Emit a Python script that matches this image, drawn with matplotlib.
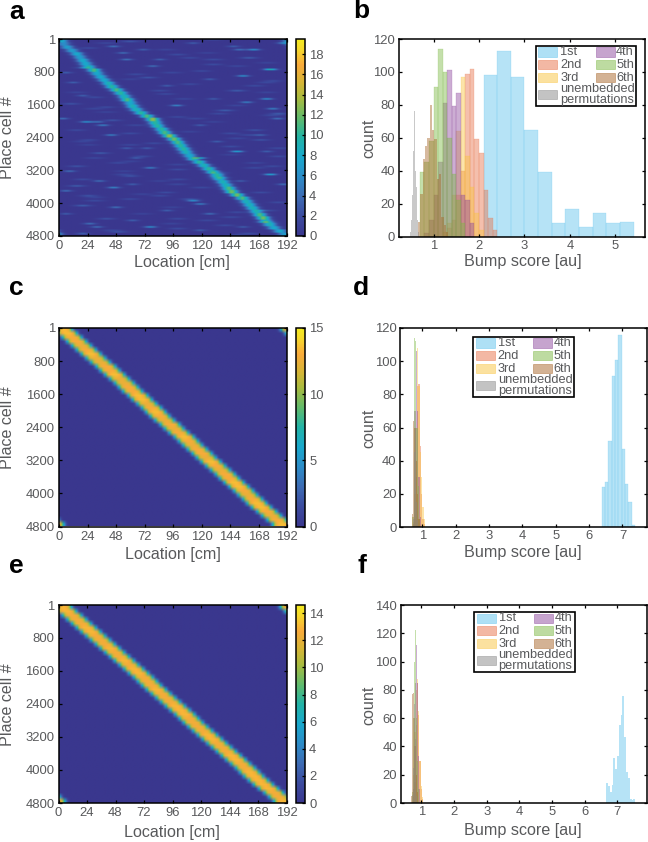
import numpy as np
import matplotlib
matplotlib.use('Agg')
import matplotlib.pyplot as plt
from matplotlib.colors import LinearSegmentedColormap
from matplotlib.patches import Rectangle

plt.rcParams['font.family'] = ['Liberation Sans', 'DejaVu Sans']

W, H = 648, 842
TEXT = '#58595b'

# %% heatmap a: ridge readings, one per 80 cells
a_ridge_cm = [2, 4, 7, 11, 15, 17.5, 20, 22.5, 25, 29.5,
              32, 35, 38, 41.5, 44.5, 48.5, 52, 55, 57.5, 60,
              62, 65, 69, 74, 79, 81, 83, 86.5, 89, 93,
              97, 100, 102.5, 105, 107, 110, 113, 118, 122, 126,
              129.5, 133, 135, 138, 140.5, 143, 145.5, 150, 154.5, 158,
              160.5, 163, 166, 169, 172, 174, 177.5, 181, 186, 190]
a_ridge_h = [8, 6, 7, 7, 8, 7, 8, 8, 9, 11,
             8, 8, 8, 9, 10, 11, 10, 9, 11, 8,
             9, 9, 10, 11, 13, 10, 10, 10, 11, 13,
             12, 11, 10, 10, 9, 8, 9, 10, 9, 10,
             10, 10, 9, 9, 9, 11, 12, 12, 11, 9,
             9, 9, 9, 11, 12, 9, 9, 8, 8, 7]

a_streak_row = [9, 3, 3, 11, 2, 4, 8, 6, 20, 25, 26, 25, 29, 34, 36, 39, 41, 24, 18, 21,
                19, 18, 49, 50, 57, 57, 56, 45, 46, 53, 51, 40, 43, 44, 1, 2, 1, 44, 3, 6,
                14, 12, 24, 10, 13, 17, 33, 36, 33, 31, 34, 29, 26, 43, 52, 53, 55, 57, 58, 59]
a_streak_cm = [178, 152, 164, 155, 46, 54, 79, 57, 99, 23, 37, 33, 44, 150, 119, 77, 178, 184, 175, 180,
               158, 130, 113, 119, 32, 77, 26, 46, 6, 127, 48, 9, 34, 62, 113, 147, 189, 189, 71, 85,
               91, 127, 3, 6, 12, 20, 74, 65, 57, 133, 175, 170, 119, 153, 91, 6, 62, 155, 119, 20]
a_streak_h = [9, 4, 6, 6, 4, 4, 4, 4, 5, 6, 5, 4, 5, 7, 6, 5, 7, 4, 6, 5,
              5, 3, 6, 5, 4, 6, 4, 5, 4, 4, 4, 4, 4, 3, 3, 3, 5, 4, 3, 3,
              3, 3, 4, 3, 3, 3, 3, 3, 3, 3, 3, 3, 3, 3, 3, 3, 3, 3, 3, 3]

a_faint_row = [0, 2, 4, 5, 7, 8, 9, 11, 12, 13, 15, 16, 17, 19, 20, 21, 22, 23, 24, 27,
               27, 28, 30, 30, 31, 32, 34, 35, 35, 37, 37, 38, 39, 40, 41, 42, 42, 44, 46, 46,
               47, 48, 48, 49, 50, 52, 54, 54, 55, 56, 57, 58, 59, 5, 10, 15, 22, 28, 38, 47]
a_faint_cm = [60, 25, 100, 160, 130, 20, 120, 75, 180, 110, 150, 90, 30, 10, 40, 140, 185, 100, 45, 15,
              165, 60, 25, 170, 80, 145, 35, 70, 185, 50, 165, 15, 100, 135, 60, 20, 100, 15, 90, 170,
              25, 60, 110, 185, 20, 150, 40, 100, 175, 140, 100, 50, 150, 110, 65, 85, 135, 145, 180, 85]
a_faint_h = [2.5, 2, 2, 3, 2, 2, 2, 2.5, 2, 2, 3, 2, 2, 2.5, 2, 3, 3, 2, 2.5, 2,
             2.5, 2, 2, 2.5, 2, 2, 3, 2, 2, 2, 2, 2.5, 2, 2, 2.5, 2, 2, 3, 2, 2,
             2.5, 2, 2.5, 2, 3, 2, 2.5, 2, 3, 2, 2, 2.5, 2, 2, 2, 2, 2, 2, 2, 2]

# second pass over the background, the dim streaks between the ones above
a_dim_row = [1, 3, 6, 7, 10, 12, 14, 16, 18, 20, 21, 23, 25, 26, 28, 29, 31, 32, 33, 35,
             36, 38, 39, 40, 42, 43, 45, 47, 49, 51, 52, 53, 55, 56, 58, 59, 0, 8, 16, 24,
             32, 41, 48, 54, 4, 13, 22, 30, 37, 44]
a_dim_cm = [40, 90, 130, 175, 95, 60, 165, 15, 105, 150, 30, 180, 130, 65, 110, 160, 20, 60, 185, 145,
            30, 100, 165, 55, 135, 85, 120, 70, 30, 95, 175, 70, 125, 95, 45, 160, 130, 150, 175, 115,
            25, 55, 30, 145, 125, 175, 40, 150, 60, 100]
a_dim_h = [1.8, 1.5, 2, 1.5, 1.8, 1.5, 2, 1.5, 1.8, 1.5, 1.8, 2, 1.5, 1.8, 1.5, 2, 1.5, 1.8, 2, 1.5,
           1.8, 1.5, 2, 1.5, 1.8, 1.5, 1.8, 1.5, 2, 1.5, 2, 1.5, 1.8, 1.5, 1.8, 2, 1.5, 1.8, 1.5, 1.8,
           1.5, 1.8, 1.5, 2, 1.5, 1.8, 1.5, 1.8, 1.5, 1.8]

# %% heatmap c and e: ridge readings, one per 100 cells
c_ridge_cm = [3, 7, 11, 15, 19, 23, 27, 31, 35, 39.5,
              43, 47, 51, 55, 58.5, 62, 66.5, 70, 74, 78,
              81.5, 85, 89, 93.5, 97, 101, 105.5, 109, 112.5, 116.5,
              120.5, 124, 128, 132, 136, 140, 143.5, 147.5, 151.5, 155.5,
              159, 163, 166.5, 170.5, 175, 179, 183.5, 188]
c_ridge_h = [13.5, 13.5, 13, 13, 12.5, 13, 13.5, 12.5, 12.5, 13,
             13, 13.5, 12.5, 12.5, 13, 13, 13.5, 13.5, 12.5, 13,
             13.5, 13, 12.5, 13, 12.5, 13, 13.5, 13, 12.5, 13,
             13, 12.5, 13.5, 13, 12.5, 13, 13, 13.5, 13.5, 13,
             12.5, 13, 13.5, 13.5, 13, 12.5, 13, 13.5]
e_ridge_cm = [2.5, 6.5, 11, 15, 19, 23, 27, 31, 35, 39,
              43, 47, 51, 55, 59, 63, 67, 71, 74.5, 78,
              82, 86, 90, 94, 98, 102, 106, 109.5, 113, 117,
              121, 125, 129, 133, 137, 141, 145, 149, 153, 157,
              160.5, 164, 168, 172, 176.5, 181, 185, 189]
e_ridge_h = [13, 13, 12.5, 12.5, 12.5, 13, 13, 12.5, 12.5, 12.5,
             13, 12.5, 12.5, 13, 12.5, 13, 13, 12.5, 12.5, 12.5,
             13, 12.5, 12.5, 12.5, 13, 13, 13, 12.5, 12.5, 12.5,
             12.5, 13, 13, 12.5, 12.5, 12.5, 13, 13, 12.5, 12.5,
             13, 13, 13, 13, 13, 12.5, 12.5, 13]

# %% histogram b
b_1st_start, b_1st_width = 2.10, 0.30
b_1st = [98, 113, 97, 65, 39, 8, 17, 6, 14, 8, 9]
b_2nd_start, b_2nd_width = 1.30, 0.10
b_2nd = [5, 10, 25, 40, 99, 102, 59, 51, 28, 11, 4]
b_3rd_start, b_3rd_width = 1.20, 0.10
b_3rd = [3, 8, 25, 64, 97, 49, 30, 14, 4]
b_4th_start, b_4th_width = 0.80, 0.10
b_4th = [2, 10, 25, 45, 81, 101, 79, 87, 25, 22, 8]
b_5th_start, b_5th_width = 0.70, 0.10
b_5th = [39, 45, 58, 91, 114, 100, 60, 38, 22, 8]
b_6th_start, b_6th_width = 0.66, 0.051
b_6th = [9, 26, 47, 55, 60, 80, 65, 59, 35, 38, 12, 7, 3]
b_perm_start, b_perm_width = 0.49, 0.022
b_perm = [3, 10, 25, 52, 76, 40, 30, 10, 3]

# %% histogram d
d_1st_start, d_1st_width = 6.38, 0.10
d_1st = [24, 27, 52, 91, 101, 116, 47, 26, 15, 1]
d_2nd_start, d_2nd_width = 0.76, 0.04
d_2nd = [5, 30, 85, 86, 49, 20, 5, 2]
d_3rd_start, d_3rd_width = 0.72, 0.04
d_3rd = [3, 20, 60, 108, 85, 45, 30, 12, 5]
d_4th_start, d_4th_width = 0.72, 0.04
d_4th = [2, 70, 106, 70, 30, 6]
d_5th_start, d_5th_width = 0.70, 0.04
d_5th = [6, 114, 112, 60, 25, 5]
d_6th_start, d_6th_width = 0.68, 0.04
d_6th = [8, 64, 60, 40, 20, 5]
d_perm_start, d_perm_width = 0.72, 0.02
d_perm = [5, 20, 45, 60, 40, 15, 4]

# %% histogram f
f_1st_start, f_1st_width = 6.66, 0.056
f_1st = [14, 12, 8, 13, 32, 24, 33, 55, 62, 76, 47, 22, 18, 3, 2, 3]
f_2nd_start, f_2nd_width = 0.74, 0.04
f_2nd = [4, 15, 55, 85, 62, 30, 10, 3]
f_3rd_start, f_3rd_width = 0.70, 0.04
f_3rd = [5, 20, 50, 80, 88, 65, 30, 12, 4]
f_4th_start, f_4th_width = 0.74, 0.03
f_4th = [10, 40, 85, 112, 85, 33, 10]
f_5th_start, f_5th_width = 0.71, 0.03
f_5th = [8, 60, 100, 122, 60, 30, 10]
f_6th_start, f_6th_width = 0.68, 0.03
f_6th = [5, 77, 78, 60, 40, 20, 8]
f_perm_start, f_perm_width = 0.72, 0.02
f_perm = [6, 25, 50, 70, 45, 20, 5]

legend_names = ['1st', '2nd', '3rd', '4th', '5th', '6th']
series_colors = ['#5fc3ec', '#e8734a', '#f9c440', '#8e4a9e', '#7db845', '#a8662a', '#888888']

location_ticks = [0, 24, 48, 72, 96, 120, 144, 168, 192]
cell_ticks = [1, 800, 1600, 2400, 3200, 4000, 4800]

parula = LinearSegmentedColormap.from_list('parula_print', [
    (0.00, '#3a378e'), (0.10, '#3b4b9f'), (0.20, '#3d6cb4'), (0.30, '#2c8cc8'),
    (0.40, '#19a8cc'), (0.50, '#22b3a6'), (0.60, '#62bb6b'), (0.70, '#a9bb3f'),
    (0.78, '#d6b536'), (0.87, '#f9ab3b'), (0.95, '#f6d92c'), (1.00, '#f3ea20')])


def box(x0, y0, x1, y1):
    # pixel box measured from top left -> figure fraction rect
    return [x0 / W, 1 - y1 / H, (x1 - x0) / W, (y1 - y0) / H]


def add_text(x, y, s, **kw):
    kw.setdefault('color', TEXT)
    kw.setdefault('ha', 'center')
    kw.setdefault('va', 'center')
    return fig.text(x / W, 1 - y / H, s, **kw)


def style_axes(ax):
    for sp in ax.spines.values():
        sp.set_linewidth(1.1)
    ax.tick_params(direction='in', top=True, right=True, length=2.2, width=0.9,
                   labelsize=9.4, labelcolor=TEXT, pad=2.5)


def ridge_matrix(cms, peaks, sigma, power=2):
    loc = np.arange(192) + 0.5
    mat = np.zeros((len(cms), 192))
    for r, (c, p) in enumerate(zip(cms, peaks)):
        d = np.abs(loc - c)
        d = np.minimum(d, 192 - d)   # track wraps round
        mat[r] += p * np.exp(-0.5 * (d / sigma) ** power)
    return mat


def add_streaks(mat, rows, cms, heights, sigma):
    loc = np.arange(192) + 0.5
    for r, c, h in zip(rows, cms, heights):
        mat[r] += h * np.exp(-0.5 * ((loc - c) / sigma) ** 2)


def heatmap(mat, rect, cbar_rect, vmax, cticks):
    ax = fig.add_axes(box(*rect))
    im = ax.imshow(mat, cmap=parula, vmin=0, vmax=vmax, aspect='auto',
                   extent=[0, 192, 4800, 1], interpolation='bilinear')
    ax.set_xticks(location_ticks)
    ax.set_yticks(cell_ticks)
    style_axes(ax)
    ax.tick_params(pad=3)
    cax = fig.add_axes(box(*cbar_rect))
    cb = fig.colorbar(im, cax=cax, ticks=cticks)
    cb.outline.set_linewidth(1.1)
    cax.tick_params(direction='in', length=2.2, width=0.9, labelsize=9.4,
                    labelcolor=TEXT, pad=3)
    return ax


def hist_panel(rect, xlim, ylim, xticks, yticks, series):
    ax = fig.add_axes(box(*rect))
    for (start, width, counts), col in zip(series, series_colors):
        lefts = start + width * np.arange(len(counts))
        # narrow bins get no edge, the lines would swamp the fill
        ax.bar(lefts, counts, width=width, align='edge', color=col, alpha=0.45,
               edgecolor=col, linewidth=0.3 if width > 0.06 else 0)
    ax.set_xlim(*xlim)
    ax.set_ylim(*ylim)
    ax.set_xticks(xticks)
    ax.set_yticks(yticks)
    style_axes(ax)
    return ax


def legend_box(x0, y0):
    # hand placed because the long last entry runs under the second column
    fig.add_artist(Rectangle((x0 / W, 1 - (y0 + 60) / H), 100.5 / W, 60 / H, transform=fig.transFigure,
                             facecolor='white', edgecolor='black', linewidth=1.2, zorder=5))
    rows = [6.3, 19, 32]
    for i, name in enumerate(legend_names):
        col = 0 if i < 3 else 1
        sx = x0 + (2.7 if col == 0 else 60)
        tx = x0 + (24.5 if col == 0 else 80.5)
        y = y0 + rows[i % 3]
        fig.add_artist(Rectangle((sx / W, 1 - (y + 4.5) / H), 19 / W, 9 / H, transform=fig.transFigure,
                                 facecolor=series_colors[i], alpha=0.5, edgecolor=series_colors[i],
                                 linewidth=0.6, zorder=6))
        add_text(tx, y, name, ha='left', fontsize=9.2, zorder=7)
    fig.add_artist(Rectangle(((x0 + 2.7) / W, 1 - (y0 + 53) / H), 19 / W, 9 / H, transform=fig.transFigure,
                             facecolor=series_colors[6], alpha=0.5, edgecolor=series_colors[6],
                             linewidth=0.6, zorder=6))
    add_text(x0 + 24.5, y0 + 48.5, 'unembedded\npermutations', ha='left', fontsize=9.2,
             linespacing=0.85, zorder=7)


# %%
fig = plt.figure(figsize=(W / 100, H / 100), dpi=100)

# a: thin single-cell streaks on a ridge that holds over two image rows
mat_a = np.repeat(ridge_matrix(a_ridge_cm, a_ridge_h, 4.0), 2, axis=0)
add_streaks(mat_a, 2 * np.array(a_streak_row), a_streak_cm, a_streak_h, 4.0)
add_streaks(mat_a, 2 * np.array(a_faint_row) + 1, a_faint_cm, a_faint_h, 5.5)
add_streaks(mat_a, 2 * np.array(a_dim_row), a_dim_cm, a_dim_h, 6.0)
heatmap(mat_a, (59, 39, 287, 236), (296, 39, 305, 236), 19.5, list(range(0, 19, 2)))

mat_c = ridge_matrix(c_ridge_cm, c_ridge_h, 7.2, power=4)
heatmap(mat_c, (59, 328, 287, 526.5), (296, 328, 305, 526.5), 15, [0, 5, 10, 15])

mat_e = ridge_matrix(e_ridge_cm, e_ridge_h, 7.2, power=4)
heatmap(mat_e, (58.5, 605, 286.5, 803), (296, 605, 305, 803), 14.6, list(range(0, 15, 2)))

hist_panel((398.5, 39, 645, 236.5), (0.23, 5.65), (0, 120), [1, 2, 3, 4, 5],
           list(range(0, 121, 20)),
           [(b_1st_start, b_1st_width, b_1st), (b_2nd_start, b_2nd_width, b_2nd),
            (b_3rd_start, b_3rd_width, b_3rd), (b_4th_start, b_4th_width, b_4th),
            (b_5th_start, b_5th_width, b_5th), (b_6th_start, b_6th_width, b_6th),
            (b_perm_start, b_perm_width, b_perm)])

hist_panel((400, 328, 646.5, 527), (0.33, 7.72), (0, 120), [1, 2, 3, 4, 5, 6, 7],
           list(range(0, 121, 20)),
           [(d_1st_start, d_1st_width, d_1st), (d_2nd_start, d_2nd_width, d_2nd),
            (d_3rd_start, d_3rd_width, d_3rd), (d_4th_start, d_4th_width, d_4th),
            (d_5th_start, d_5th_width, d_5th), (d_6th_start, d_6th_width, d_6th),
            (d_perm_start, d_perm_width, d_perm)])

hist_panel((400.5, 605, 646.5, 803), (0.36, 7.9), (0, 140), [1, 2, 3, 4, 5, 6, 7],
           list(range(0, 141, 20)),
           [(f_1st_start, f_1st_width, f_1st), (f_2nd_start, f_2nd_width, f_2nd),
            (f_3rd_start, f_3rd_width, f_3rd), (f_4th_start, f_4th_width, f_4th),
            (f_5th_start, f_5th_width, f_5th), (f_6th_start, f_6th_width, f_6th),
            (f_perm_start, f_perm_width, f_perm)])

legend_box(535.7, 45.7)
legend_box(473.3, 336.7)
legend_box(474, 611.7)

# axis titles, each measured off the panel
for x, y in [(181.5, 263), (173, 554), (172, 833)]:
    add_text(x, y, 'Location [cm]', fontsize=11.6)
for x, y in [(523, 262), (523, 552.5), (523, 830)]:
    add_text(x, y, 'Bump score [au]', fontsize=11.6)
for x, y in [(8, 138), (8, 428), (8, 705)]:
    add_text(x, y, 'Place cell #', fontsize=11.6, rotation=90)
for x, y in [(369, 138), (369, 428), (369, 705)]:
    add_text(x, y, 'count', fontsize=11.6, rotation=90)

for x, y, s in [(9, 19, 'a'), (353, 18, 'b'), (9, 295, 'c'), (353, 295, 'd'), (9, 573, 'e'), (357, 573, 'f')]:
    add_text(x, y, s, color='black', fontweight='bold', fontsize=19, ha='left', va='baseline')

fig.savefig('out.png', dpi=100)
